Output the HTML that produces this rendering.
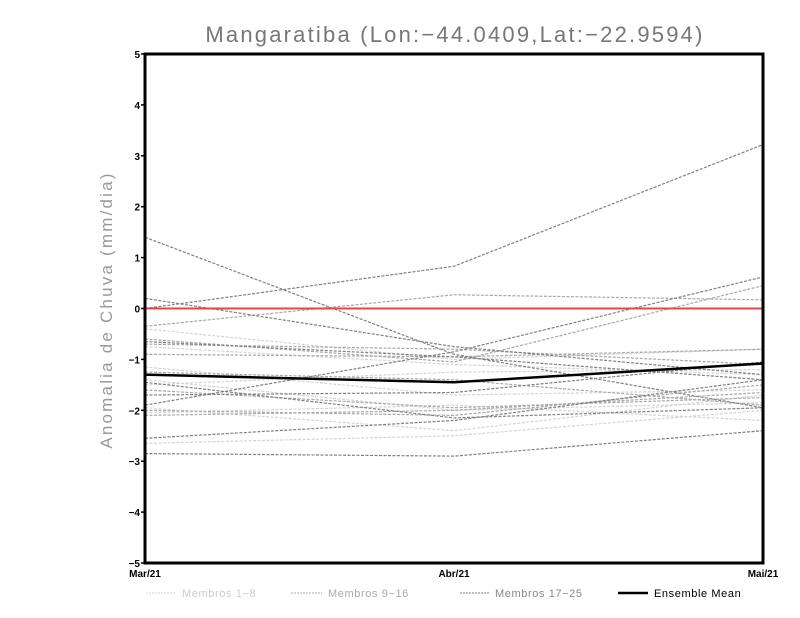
<!DOCTYPE html>
<html><head><meta charset="utf-8"><style>
body{margin:0;background:#fff;}
svg{display:block;font-family:"Liberation Sans",sans-serif;}
</style></head><body>
<svg id="c" width="800" height="618">
<text x="455" y="42" text-anchor="middle" font-size="22" fill="#777" letter-spacing="2.2">Mangaratiba (Lon:−44.0409,Lat:−22.9594)</text>
<text transform="translate(112,310) rotate(-90)" text-anchor="middle" font-size="17" fill="#999" letter-spacing="2.2">Anomalia de Chuva (mm/dia)</text>
<g id="lines"></g>
<g id="axes"></g>
<g font-size="11" letter-spacing="0.6">
<line x1="146" y1="593" x2="176" y2="593" stroke="#d4d4d4" stroke-dasharray="2,1"/>
<text x="182" y="597" fill="#ccc">Membros 1−8</text>
<line x1="291" y1="593" x2="322" y2="593" stroke="#a8a8a8" stroke-dasharray="2,1"/>
<text x="328" y="597" fill="#aaa">Membros 9−16</text>
<line x1="460" y1="593" x2="490" y2="593" stroke="#808080" stroke-dasharray="2,1"/>
<text x="495" y="597" fill="#888">Membros 17−25</text>
<line x1="618" y1="593" x2="648" y2="593" stroke="#000" stroke-width="2.5"/>
<text x="654" y="597" fill="#000">Ensemble Mean</text>
</g>
</svg>
<script>
const months=["Mar/21","Abr/21","Mai/21"];
const yTicks=[-5,-4,-3,-2,-1,0,1,2,3,4,5];
const members1to8=[[-0.4,-1.0,-0.8],[-0.75,-1.1,-1.3],[-1.15,-1.7,-1.6],[-1.4,-2.0,-1.85],[-1.95,-2.4,-1.7],[-2.05,-1.9,-2.2],[-2.65,-2.5,-2.0],[-1.5,-1.25,-1.2]];
const members9to16=[[-0.35,0.27,0.17],[-0.7,-0.8,-1.1],[-0.9,-0.95,-0.8],[-1.6,-1.95,-1.75],[-2.0,-2.1,-1.5],[-1.25,-1.4,-1.9],[-2.1,-2.0,-1.65],[-0.6,-1.05,0.45]];
const members17to25=[[0.0,0.83,3.22],[1.4,-0.9,-1.95],[0.2,-0.75,-1.3],[-1.9,-0.85,0.62],[-2.85,-2.9,-2.4],[-2.55,-2.2,-1.4],[-0.65,-0.95,-1.4],[-1.45,-2.15,-1.95],[-1.7,-1.65,-1.05]];
const ensembleMean=[-1.3,-1.45,-1.08];
const NS="http://www.w3.org/2000/svg";
const L=145,R=763,T=54,B=563;
const xS=i=>L+(R-L)*i/(months.length-1);
const yS=v=>B-(v+5)/10*(B-T);
function mk(tag,attrs,parent){const e=document.createElementNS(NS,tag);for(const k in attrs)e.setAttribute(k,attrs[k]);parent.appendChild(e);return e;}
const lg=document.getElementById('lines'),ag=document.getElementById('axes');
function drawSet(set,color,name){set.forEach((s,i)=>{const p=mk('polyline',{points:s.map((v,j)=>xS(j)+','+yS(v)).join(' '),fill:'none',stroke:color,'stroke-width':1.2,'stroke-dasharray':'3,1.5'},lg);

});}
drawSet(members1to8,'#d4d4d4','member-1-8');
drawSet(members9to16,'#a8a8a8','member-9-16');
drawSet(members17to25,'#808080','member-17-25');
const z=mk('line',{x1:L,x2:R,y1:yS(0),y2:yS(0),stroke:'#f04040','stroke-width':2},lg);


const m=mk('polyline',{points:ensembleMean.map((v,j)=>xS(j)+','+yS(v)).join(' '),fill:'none',stroke:'#000','stroke-width':2.5},lg);


const fr=mk('rect',{x:L,y:T,width:R-L,height:B-T,fill:'none',stroke:'#000','stroke-width':3},ag);


yTicks.forEach(v=>{const t=mk('line',{x1:L-4,x2:L,y1:yS(v),y2:yS(v),stroke:'#000','stroke-width':1.5},ag);


const tx=mk('text',{x:L-5,y:yS(v)+4,'text-anchor':'end','font-size':10,'font-weight':'bold'},ag);tx.textContent=v<0?'−'+(-v):v;

});
months.forEach((mo,i)=>{const tx=mk('text',{x:xS(i),y:B+14,'text-anchor':'middle','font-size':10,'font-weight':'bold'},ag);tx.textContent=mo;

});
</script>
</body></html>
